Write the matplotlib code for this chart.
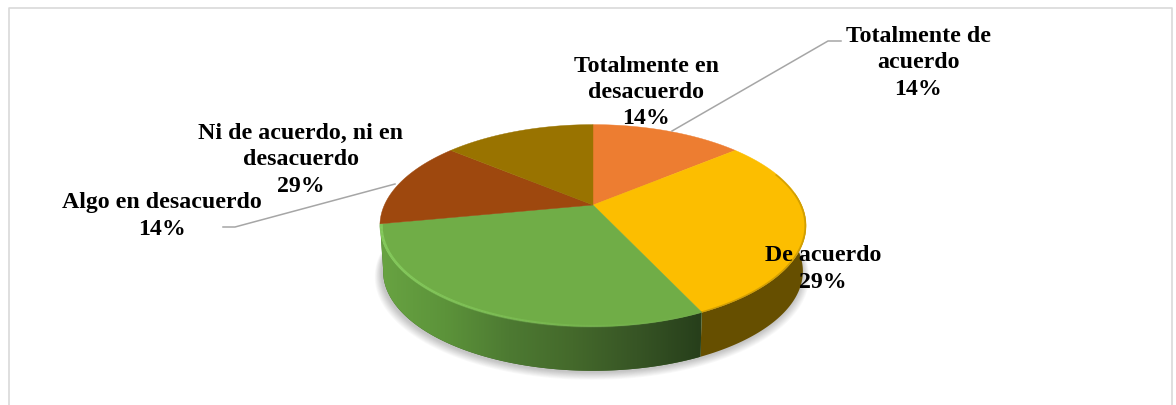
import numpy as np
import matplotlib
matplotlib.use("Agg")
import matplotlib.pyplot as plt
from matplotlib.colors import LinearSegmentedColormap
from matplotlib.collections import LineCollection
from matplotlib.patches import Polygon

# clockwise from 12 o'clock
categories = [
    "Totalmente de\nacuerdo",
    "De acuerdo",
    "Ni de acuerdo, ni en\ndesacuerdo",
    "Algo en desacuerdo",
    "Totalmente en\ndesacuerdo",
]
percent = [14, 29, 29, 14, 14]
top_colors = ["#ED7D31", "#FCBE00", "#70AD47", "#9E480E", "#997300"]

label_pos = [(918, 63), (823, 269), (301, 160), (162, 216), (646, 92.5)]

# pie geometry in pixels
CX, CY = 593.0, 206.0
RX, K, A = 208.6, 0.204, 96.8
DEPTH = 46.0


def project(theta, scale=1.0, drop=0.0):
    """Perspective view of the unit circle, theta clockwise from the top."""
    u, v = np.sin(theta), np.cos(theta)
    d = 1 + K * v
    return CX + scale * RX * u / d, CY - scale * A * v / d + drop


def arc(t0, t1, scale=1.0, drop=0.0):
    t = np.linspace(t0, t1, max(int(abs(t1 - t0) * 80), 2))
    return np.column_stack(project(t, scale, drop))


def wall(t0, t1):
    return np.vstack([arc(t0, t1), arc(t0, t1, 0.985, DEPTH)[::-1]])


fig = plt.figure(figsize=(11.76, 4.06), dpi=100)
ax = fig.add_axes([0, 0, 1, 1])
ax.set_axis_off()

# chart frame
ax.plot([9, 9, 1172, 1172], [406, 9, 9, 406], color="#d9d9d9", lw=1.2)

edges = np.radians(np.concatenate([[0], np.cumsum(percent)]) * 3.6)
FRONT_R = np.radians(100)

# soft shadow under the pie
bottom = arc(0, 2 * np.pi, 0.985, DEPTH)
for i in range(10):
    grow = 1 + 0.0035 * (10 - i)
    pts = np.column_stack([CX + (bottom[:, 0] - CX) * grow - 1,
                           CY + 48 + (bottom[:, 1] - CY - 48) * grow + 1 + 0.4 * (10 - i)])
    ax.add_patch(Polygon(pts, color="black", alpha=0.022, lw=0, zorder=1))

# side walls
yellow_wall = wall(FRONT_R - 0.3, edges[2])
ax.add_patch(Polygon(yellow_wall, color="#664F00", lw=0, zorder=2))

green_cmap = LinearSegmentedColormap.from_list(
    "green_wall", ["#68A342", "#5C933A", "#4D7A32", "#44692B", "#375525", "#273F1B"])
green_wall = Polygon(wall(edges[2], edges[3]), transform=ax.transData, lw=0)
ax.add_patch(Polygon(wall(edges[2], edges[3]), color="#3F6228", lw=0, zorder=2))
grad = ax.imshow(np.linspace(0, 1, 256)[None, :], cmap=green_cmap, aspect="auto",
                 extent=(381, 701, 380, 225), zorder=2.1)
grad.set_clip_path(green_wall)

# top faces
for i, color in enumerate(top_colors):
    pts = np.vstack([[CX, CY], arc(edges[i], edges[i + 1])])
    ax.add_patch(Polygon(pts, facecolor=color, edgecolor=color, lw=0.3, zorder=3))

# rim highlight on the green slice, fading to the right
rim = arc(edges[2], edges[3], 0.993, 0.5)[::-1]
rim_segs = np.stack([rim[:-1], rim[1:]], axis=1)
fade = np.clip((720 - rim[:-1, 0]) / 340, 0, 1)
rim_colors = np.zeros((len(fade), 4))
rim_colors[:, :3] = matplotlib.colors.to_rgb("#8FD867")
rim_colors[:, 3] = fade ** 1.5 * 0.7
ax.add_collection(LineCollection(rim_segs, colors=rim_colors, linewidths=2.0, zorder=4))

# dark rim along the yellow slice
y_rim = arc(edges[1] + 0.35, edges[2], 0.996, 0.2)
ax.plot(y_rim[:, 0], y_rim[:, 1], color="#7A5C00", lw=1.2, alpha=0.3, zorder=4)

# leader lines
ax.plot([672, 828, 841], [132, 42, 42], color="#a6a6a6", lw=1.1, zorder=5)
ax.plot([395, 235, 223], [185, 228, 228], color="#a6a6a6", lw=1.1, zorder=5)

for name, pct, (x, y) in zip(categories, percent, label_pos):
    ax.text(x, y, f"{name}\n{pct}%", ha="center", va="center", multialignment="center",
            family="Liberation Serif", fontweight="bold", fontsize=17.2,
            linespacing=1.33, color="black", zorder=6)

ax.set_xlim(0, 1176)
ax.set_ylim(406, 0)
fig.savefig("out.png", dpi=100, facecolor="white")
